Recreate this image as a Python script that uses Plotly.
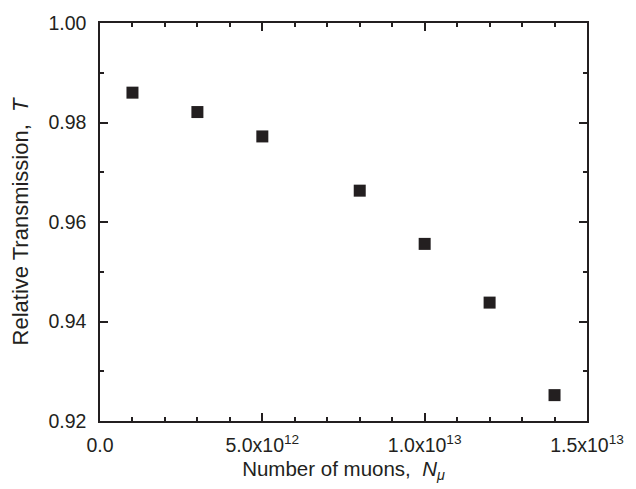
import plotly.graph_objects as go

n_muons = [1e12, 3e12, 5e12, 8e12, 1e13, 1.2e13, 1.4e13]
transmission = [0.9860, 0.9821, 0.9772, 0.9663, 0.9556, 0.9438, 0.9252]

x_tickvals = [0, 5e12, 1e13, 1.5e13]
x_ticktext = ["0.0", "5.0x10<sup>12</sup>", "1.0x10<sup>13</sup>", "1.5x10<sup>13</sup>"]
y_tickvals = [0.92, 0.94, 0.96, 0.98, 1.00]
y_ticktext = ["0.92", "0.94", "0.96", "0.98", "1.00"]

FONT = "Liberation Sans, Arial, sans-serif"
INK = "#231f20"

fig = go.Figure()
fig.add_trace(go.Scatter(
    x=n_muons, y=transmission, mode="markers",
    marker=dict(symbol="square", size=12, color=INK, line=dict(width=0)),
    showlegend=False,
))

axis_common = dict(
    showline=True, linecolor=INK, linewidth=1.5, mirror="allticks",
    ticks="inside", ticklen=8, tickwidth=1.5, tickcolor=INK,
    showgrid=False, zeroline=False,
    tickfont=dict(family=FONT, size=19.5, color=INK),
)

fig.update_xaxes(
    range=[0, 1.5e13], tickvals=x_tickvals, ticktext=x_ticktext,
    minor=dict(ticks="inside", ticklen=4, tickwidth=1.5, tickcolor=INK, dtick=1e12, tick0=0, showgrid=False),
    title=dict(text="Number of muons,  <i>N</i><sub><i>μ</i></sub>", standoff=6,
               font=dict(family=FONT, size=20.5, color=INK)),
    ticklabelstandoff=6,
    **axis_common,
)
fig.update_yaxes(
    range=[0.92, 1.00], tickvals=y_tickvals, ticktext=y_ticktext,
    minor=dict(ticks="inside", ticklen=4, tickwidth=1.5, tickcolor=INK, dtick=0.01, tick0=0.92, showgrid=False),
    title=dict(text="Relative Transmission,  <i>T</i>", standoff=14,
               font=dict(family=FONT, size=22, color=INK)),
    ticklabelstandoff=8,
    **axis_common,
)

fig.update_layout(
    width=636, height=489,
    margin=dict(l=100, r=40, t=15, b=67),
    paper_bgcolor="white", plot_bgcolor="white",
)

fig.write_html("out.html")
